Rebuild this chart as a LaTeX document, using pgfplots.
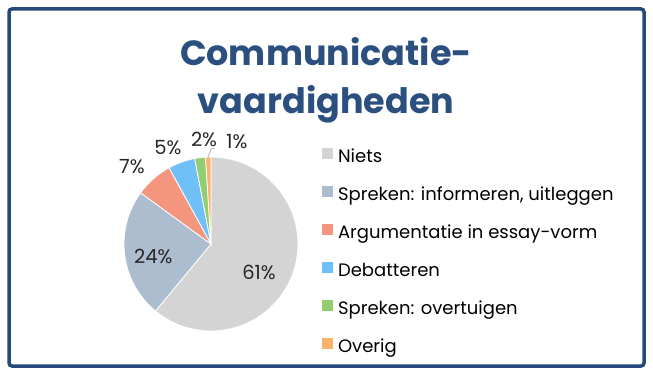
\documentclass[border=0pt]{standalone}
\usepackage{pgfplots}
\pgfplotsset{compat=1.18}
\usepackage{pgfplotstable}
\usepgfplotslibrary{polar}
\usepackage{fontspec}
\setmainfont{Poppins}
\definecolor{cBorder}{HTML}{25497A}
\definecolor{cTitle}{HTML}{2B4F7E}
\definecolor{slice0}{HTML}{D4D4D4}
\definecolor{slice1}{HTML}{ADBDD0}
\definecolor{slice2}{HTML}{F4967E}
\definecolor{slice3}{HTML}{6FBFF8}
\definecolor{slice4}{HTML}{93CD72}
\definecolor{slice5}{HTML}{F9B26A}
\pgfplotstableread{
idx value
0 61
1 24
2 7
3 5
4 2
5 1
}\piedata
\begin{document}
\begin{tikzpicture}[x=1pt,y=1pt]
\path[use as bounding box] (0,0) rectangle (653,375);
\draw[cBorder, line width=3.5pt, rounded corners=3pt] (9,9) rectangle (644,366);
\node[font=\bfseries\fontsize{35}{48}\selectfont, text=cTitle, align=center] at (326,295) {Communicatie-\\vaardigheden};
\begin{polaraxis}[
  at={(211pt,131pt)}, anchor=origin,
  scale only axis, width=174pt, height=174pt,
  hide axis, ymin=0, ymax=1, clip=false,
  legend entries={Niets,{Spreken: informeren, uitleggen},Argumentatie in essay-vorm,Debatteren,Spreken: overtuigen,Overig},
  legend cell align=left,
  legend image code/.code={\fill[#1,draw=none] (0pt,-1pt) rectangle (11pt,10pt);},
  legend style={at={(1.12,1.063)}, anchor=north west, draw=none, fill=none,
    font=\fontsize{18}{21}\selectfont, row sep=20pt, column sep=5pt,
    nodes={inner sep=0pt, text height=12pt, text depth=4pt}},
]
\def\cumul{0}
\pgfplotsforeachungrouped \i in {0,...,5}{
  \pgfplotstablegetelem{\i}{value}\of\piedata
  \let\val\pgfplotsretval
  \pgfmathsetmacro\startang{90-3.6*\cumul}
  \pgfmathsetmacro\cumul{\cumul+\val}
  \pgfmathsetmacro\endang{90-3.6*\cumul}
  \edef\temp{\noexpand\addplot[fill=slice\i, draw=white, line width=0.8pt, domain=\endang:\startang, samples=90] {1} -- (axis cs:0,0) -- cycle;}
  \temp
}
\draw[gray!70, line width=0.6pt] (axis cs:92,1.0) -- (axis cs:90,1.09) -- (axis cs:87.6,1.105);
\begin{scope}[every node/.style={font=\fontsize{19.5}{22}\selectfont, text=black!85}]
\node at (axis cs:-30.3,0.64) {61\%};
\node at (axis cs:192.6,0.68) {24\%};
\node at (axis cs:135.7,1.27) {7\%};
\node at (axis cs:114.1,1.21) {5\%};
\node at (axis cs:93.8,1.21) {2\%};
\node at (axis cs:75.7,1.21) {1\%};
\end{scope}
\end{polaraxis}
\end{tikzpicture}
\end{document}
